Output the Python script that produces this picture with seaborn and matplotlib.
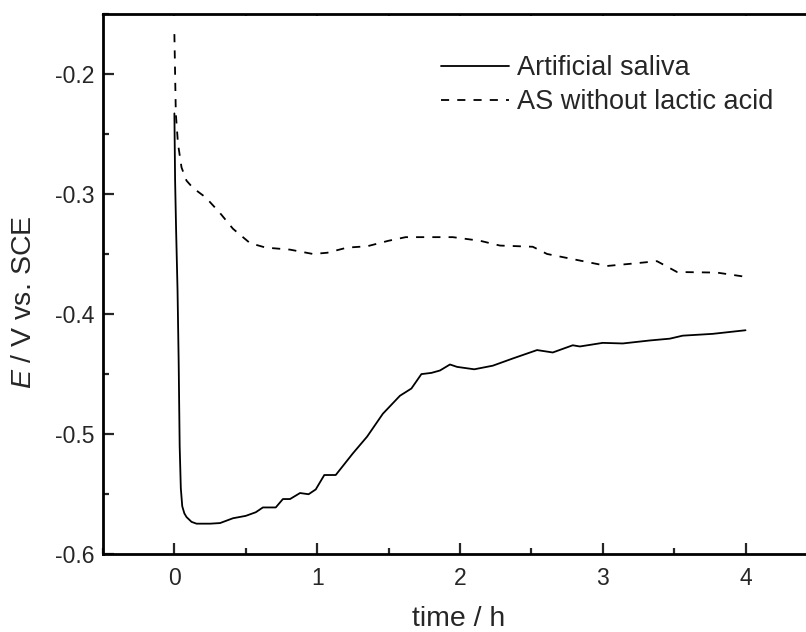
import numpy as np
import pandas as pd
import matplotlib
matplotlib.use("Agg")
import matplotlib.pyplot as plt
from matplotlib.ticker import MultipleLocator
import seaborn as sns

# Artificial saliva (solid)
t_as = [0.0, 0.005, 0.012, 0.022, 0.03, 0.037, 0.045, 0.055, 0.07, 0.085, 0.12, 0.155, 0.25, 0.32,
        0.41, 0.50, 0.57, 0.62, 0.66, 0.71, 0.76, 0.81, 0.88, 0.94, 0.99, 1.05, 1.13, 1.25, 1.35,
        1.46, 1.58, 1.66, 1.73, 1.80, 1.86, 1.93, 1.98, 2.10, 2.23, 2.37, 2.54, 2.65, 2.79, 2.84,
        3.00, 3.14, 3.33, 3.47, 3.56, 3.77, 4.00]
e_as = [-0.233, -0.289, -0.33, -0.38, -0.44, -0.51, -0.545, -0.560, -0.566, -0.569, -0.573, -0.5745,
        -0.5745, -0.574, -0.570, -0.568, -0.565, -0.561, -0.561, -0.561, -0.554, -0.554, -0.549,
        -0.550, -0.546, -0.534, -0.534, -0.516, -0.502, -0.483, -0.468, -0.462, -0.450, -0.449,
        -0.447, -0.442, -0.444, -0.446, -0.443, -0.437, -0.430, -0.432, -0.426, -0.427, -0.424,
        -0.4245, -0.422, -0.4205, -0.418, -0.4165, -0.4135]

# AS without lactic acid (dashed)
t_nl = [0.0, 0.005, 0.01, 0.025, 0.05, 0.085, 0.13, 0.22, 0.32, 0.41, 0.53, 0.64, 0.81, 0.97, 1.07,
        1.21, 1.35, 1.50, 1.62, 1.80, 1.95, 2.14, 2.28, 2.51, 2.61, 2.82, 3.03, 3.21, 3.38, 3.52,
        3.80, 4.00]
e_nl = [-0.167, -0.20, -0.233, -0.258, -0.278, -0.289, -0.295, -0.303, -0.316, -0.329, -0.341,
        -0.3447, -0.3464, -0.350, -0.349, -0.3447, -0.3436, -0.339, -0.336, -0.336, -0.336,
        -0.339, -0.343, -0.344, -0.350, -0.355, -0.360, -0.358, -0.356, -0.365, -0.3655, -0.369]

labels = ["Artificial saliva", "AS without lactic acid"]
xticks = [0, 1, 2, 3, 4]
yticks = [-0.6, -0.5, -0.4, -0.3, -0.2]
ytick_labels = ["-0.6", "-0.5", "-0.4", "-0.3", "-0.2"]

sns.set_style("ticks")
plt.rcParams["font.family"] = ["Liberation Sans", "DejaVu Sans"]
plt.rcParams["mathtext.fontset"] = "custom"
plt.rcParams["mathtext.rm"] = "Liberation Sans"
plt.rcParams["mathtext.it"] = "Liberation Sans:italic"

fig = plt.figure(figsize=(8.06, 6.32), dpi=100)
ax = fig.add_axes([103 / 806, 1 - 554.3 / 632, (816.9 - 103) / 806, (554.3 - 13.7) / 632])

df1 = pd.DataFrame({"t": t_as, "E": e_as})
df2 = pd.DataFrame({"t": t_nl, "E": e_nl})
sns.lineplot(data=df1, x="t", y="E", ax=ax, color="black", lw=1.3, label=labels[0],
             sort=False, estimator=None)
sns.lineplot(data=df2, x="t", y="E", ax=ax, color="black", lw=1.3, label=labels[1],
             sort=False, estimator=None)
ax.lines[1].set_dashes((4.5, 4.5))

ax.set_xlim(-0.5, 4.5)
ax.set_ylim(-0.6, -0.15)
ax.xaxis.set_minor_locator(MultipleLocator(0.5))
ax.yaxis.set_minor_locator(MultipleLocator(0.05))
ax.set_xticks(xticks)
ax.set_yticks(yticks)
ax.set_yticklabels(ytick_labels)

for s in ["left", "bottom", "top"]:
    ax.spines[s].set_linewidth(2.0)
    ax.spines[s].set_color("black")
ax.spines["right"].set_visible(False)

ax.tick_params(which="major", direction="in", length=8, width=1.6, labelsize=16.5,
               right=False)
ax.tick_params(which="minor", direction="in", length=4.5, width=1.6, right=False)
ax.tick_params(axis="y", which="major", pad=6)
ax.tick_params(axis="x", which="major", pad=9)
ax.tick_params(axis="x", which="both", top=True)
for tl in ax.xaxis.get_major_ticks() + ax.xaxis.get_minor_ticks():
    tl.tick2line.set_markersize(1.5)

ax.set_xlabel("time / h", fontsize=20.5)
ax.set_ylabel("$E$ / V vs. SCE", fontsize=20.5)
ax.xaxis.set_label_coords((459 - 103) / 713.9, -0.096)
ax.yaxis.set_label_coords(-0.093, 0.467)

leg = ax.legend(loc="upper left", bbox_to_anchor=(441 / 806, 1 - 55 / 632),
                bbox_transform=fig.transFigure, frameon=False, fontsize=19.5,
                handlelength=2.5, handletextpad=0.3, labelspacing=0.3,
                borderpad=0, borderaxespad=0)

fig.savefig("out.png", dpi=100)
